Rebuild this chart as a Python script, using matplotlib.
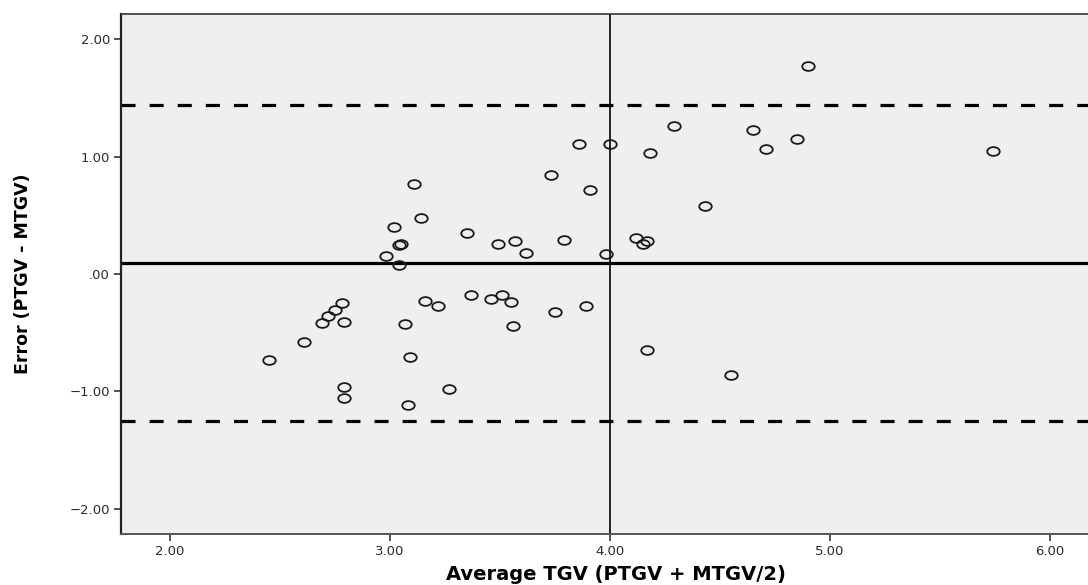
import matplotlib
matplotlib.use("Agg")
import matplotlib.pyplot as plt
from matplotlib.path import Path
from matplotlib.ticker import FixedLocator, FuncFormatter
import numpy as np

# Bland-Altman style data
avg_tgv = [
    2.45, 2.61, 2.69, 2.72, 2.75, 2.78, 2.79, 2.79, 2.79, 3.07,
    3.09, 3.08, 3.16, 3.22, 3.27, 3.37, 3.46, 3.51, 3.55, 3.56,
    3.75, 3.89, 3.11, 3.14, 3.02, 3.04, 3.05, 2.98, 3.04, 3.35,
    3.49, 3.57, 3.62, 3.86, 4.00, 3.73, 3.91, 3.79, 3.98, 4.12,
    4.15, 4.17, 4.18, 4.29, 4.43, 4.65, 4.71, 4.85, 4.90, 5.74,
    4.17, 4.55,
]
error = [
    -0.73, -0.58, -0.42, -0.36, -0.31, -0.25, -0.41, -0.96, -1.06, -0.43,
    -0.71, -1.12, -0.23, -0.27, -0.98, -0.18, -0.21, -0.18, -0.24, -0.44,
    -0.32, -0.27, 0.77, 0.48, 0.40, 0.25, 0.26, 0.15, 0.08, 0.35,
    0.26, 0.28, 0.18, 1.11, 1.11, 0.84, 0.72, 0.29, 0.17, 0.31,
    0.26, 0.28, 1.03, 1.26, 0.58, 1.23, 1.07, 1.15, 1.77, 1.05,
    -0.65, -0.86,
]
mean_diff = 0.096
upper_loa = 1.44
lower_loa = -1.25
ref_x = 4.0

x_ticks = [2, 3, 4, 5, 6]
y_ticks = [-2, -1, 0, 1, 2]


def fmt(v, pos):
    if abs(v) < 1e-9:
        return ".00"
    s = "%.2f" % abs(v)
    return ("\u2212" + s) if v < 0 else s


fig = plt.figure(figsize=(10.88, 5.85), dpi=100)
ax = fig.add_axes([121 / 1088, 1 - 534 / 585, 1 - 121 / 1088, 520 / 585])
ax.set_facecolor("#efefef")

# slightly flattened open circle, like the original
circ = Path.unit_circle()
ellipse = Path(circ.vertices * np.array([1.0, 0.7]), circ.codes)

ax.axhline(upper_loa, color="black", lw=2.3, linestyle=(0, (4.4, 4.4)), zorder=2)
ax.axhline(lower_loa, color="black", lw=2.3, linestyle=(0, (4.4, 4.4)), zorder=2)
ax.axhline(mean_diff, color="black", lw=2.3, zorder=2)
ax.axvline(ref_x, color="black", lw=1.2, zorder=2)

ax.plot(avg_tgv, error, linestyle="none", marker=ellipse, markersize=9,
        markerfacecolor="none", markeredgecolor="#1a1a1a", markeredgewidth=1.3,
        zorder=3)

ax.set_xlim(1.777, 6.173)
ax.set_ylim(-2.217, 2.217)
ax.xaxis.set_major_locator(FixedLocator(x_ticks))
ax.yaxis.set_major_locator(FixedLocator(y_ticks))
ax.xaxis.set_major_formatter(FuncFormatter(fmt))
ax.yaxis.set_major_formatter(FuncFormatter(fmt))
ax.tick_params(axis="both", direction="out", length=5, width=1.2,
               color="#333333", labelsize=9.5, labelcolor="#2a2a2a", pad=3)

ax.spines["right"].set_visible(False)
ax.spines["left"].set_linewidth(1.6)
ax.spines["left"].set_color("#222222")
ax.spines["bottom"].set_linewidth(1.4)
ax.spines["bottom"].set_color("#555555")
ax.spines["top"].set_linewidth(1.2)
ax.spines["top"].set_color("#333333")

fig.text(616 / 1088, 1 - 574 / 585, "Average TGV (PTGV + MTGV/2)",
         ha="center", va="center", fontsize=14, fontweight="bold")
fig.text(23 / 1088, 1 - 274 / 585, "Error (PTGV - MTGV)", rotation=90,
         ha="center", va="center", fontsize=12.5, fontweight="bold")

fig.savefig("out.png", dpi=100)
